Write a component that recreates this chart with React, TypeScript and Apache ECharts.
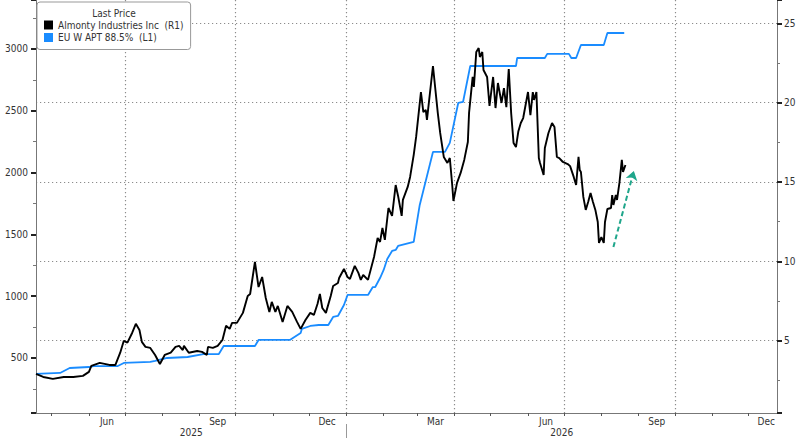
import React, { useEffect, useRef } from 'react';
import * as echarts from 'echarts';

const X_START = '2025-04-18';
const X_END = '2026-12-25';
const MONTH_NAMES = ['Jan', 'Feb', 'Mar', 'Apr', 'May', 'Jun', 'Jul', 'Aug', 'Sep', 'Oct', 'Nov', 'Dec'];
const LABEL_MONTHS = [2, 5, 8, 11];
const GRID_MONTHS = [0, 3, 6, 9];
const LEFT_RANGE = [55, 3396];
const RIGHT_RANGE = [0.44, 26.47];

const LEGEND_TITLE = 'Last Price';
const ALMONTY_NAME = 'Almonty Industries Inc  (R1)';
const APT_NAME = 'EU W APT 88.5%  (L1)';

// Almonty Industries share price (right axis)
const almonty: [string, number][] = [
  ['2025-04-18', 2.9], ['2025-04-24', 2.71], ['2025-05-02', 2.59], ['2025-05-11', 2.71],
  ['2025-05-19', 2.71], ['2025-05-27', 2.78], ['2025-06-01', 3.03], ['2025-06-03', 3.41],
  ['2025-06-10', 3.6], ['2025-06-18', 3.47], ['2025-06-23', 3.47], ['2025-06-27', 4.24],
  ['2025-06-30', 4.99], ['2025-07-03', 4.87], ['2025-07-07', 5.5], ['2025-07-10', 6.06],
  ['2025-07-13', 5.67], ['2025-07-15', 4.92], ['2025-07-18', 4.61], ['2025-07-22', 4.54],
  ['2025-07-26', 4.1], ['2025-07-30', 3.53], ['2025-08-03', 4.1], ['2025-08-08', 4.24],
  ['2025-08-12', 4.61], ['2025-08-15', 4.67], ['2025-08-18', 4.41], ['2025-08-19', 4.67],
  ['2025-08-23', 4.24], ['2025-08-30', 4.35], ['2025-09-03', 4.29], ['2025-09-07', 4.1],
  ['2025-09-08', 4.61], ['2025-09-12', 4.54], ['2025-09-16', 4.67], ['2025-09-20', 5.04],
  ['2025-09-23', 5.94], ['2025-09-26', 5.74], ['2025-09-28', 6.12], ['2025-10-02', 6.12],
  ['2025-10-07', 6.75], ['2025-10-11', 7.82], ['2025-10-13', 7.94], ['2025-10-17', 9.96],
  ['2025-10-20', 8.38], ['2025-10-23', 9.01], ['2025-10-26', 7.69], ['2025-10-29', 6.81],
  ['2025-10-31', 7.44], ['2025-11-03', 6.81], ['2025-11-05', 7.19], ['2025-11-09', 6.18],
  ['2025-11-13', 7.19], ['2025-11-17', 6.81], ['2025-11-21', 6.18], ['2025-11-24', 5.74],
  ['2025-11-28', 6.3], ['2025-12-02', 6.75], ['2025-12-05', 6.62], ['2025-12-08', 7.31],
  ['2025-12-10', 7.94], ['2025-12-12', 7.06], ['2025-12-15', 6.75], ['2025-12-19', 7.82],
  ['2025-12-21', 8.44], ['2025-12-25', 8.63], ['2025-12-26', 8.95], ['2025-12-30', 9.52],
  ['2026-01-02', 9.01], ['2026-01-04', 8.89], ['2026-01-08', 9.71], ['2026-01-11', 9.27],
  ['2026-01-13', 8.83], ['2026-01-15', 9.14], ['2026-01-19', 8.83], ['2026-01-24', 10.27],
  ['2026-01-27', 11.47], ['2026-01-29', 11.22], ['2026-01-31', 12.1], ['2026-02-02', 11.35],
  ['2026-02-05', 13.36], ['2026-02-08', 12.86], ['2026-02-11', 14.81], ['2026-02-13', 14.12],
  ['2026-02-16', 12.86], ['2026-02-17', 13.87], ['2026-02-21', 14.69], ['2026-02-23', 15.32],
  ['2026-02-26', 16.71], ['2026-02-28', 17.84], ['2026-03-04', 20.67], ['2026-03-06', 19.41],
  ['2026-03-08', 19.54], ['2026-03-09', 18.91], ['2026-03-14', 22.31], ['2026-03-18', 19.35],
  ['2026-03-20', 18.09], ['2026-03-23', 16.58], ['2026-03-26', 16.2], ['2026-03-28', 16.51],
  ['2026-03-30', 14.81], ['2026-03-31', 13.8], ['2026-04-03', 14.94], ['2026-04-06', 15.57],
  ['2026-04-09', 16.39], ['2026-04-12', 17.52], ['2026-04-13', 19.35], ['2026-04-16', 21.62],
  ['2026-04-17', 20.99], ['2026-04-19', 23.19], ['2026-04-21', 23.44], ['2026-04-22', 22.88],
  ['2026-04-24', 23.19], ['2026-04-25', 22.06], ['2026-04-28', 21.62], ['2026-04-30', 19.79],
  ['2026-05-03', 21.62], ['2026-05-05', 19.66], ['2026-05-07', 21.24], ['2026-05-10', 19.98],
  ['2026-05-12', 20.92], ['2026-05-14', 19.72], ['2026-05-16', 22.12], ['2026-05-18', 19.35],
  ['2026-05-20', 17.46], ['2026-05-22', 17.2], ['2026-05-24', 18.2], ['2026-05-26', 18.72],
  ['2026-05-28', 19.03], ['2026-06-01', 20.67], ['2026-06-03', 19.22], ['2026-06-05', 20.67],
  ['2026-06-06', 20.17], ['2026-06-08', 20.67], ['2026-06-10', 16.51], ['2026-06-11', 16.2],
  ['2026-06-14', 15.44], ['2026-06-15', 17.14], ['2026-06-18', 18.09], ['2026-06-21', 18.72],
  ['2026-06-23', 18.47], ['2026-06-25', 16.58], ['2026-06-27', 16.51], ['2026-06-30', 16.26],
  ['2026-07-04', 16.13], ['2026-07-06', 16.0], ['2026-07-09', 15.32], ['2026-07-11', 14.81],
  ['2026-07-13', 16.58], ['2026-07-14', 15.76], ['2026-07-15', 15.63], ['2026-07-17', 14.06],
  ['2026-07-19', 13.24], ['2026-07-21', 13.74], ['2026-07-23', 14.31], ['2026-07-25', 13.74],
  ['2026-07-27', 13.24], ['2026-07-29', 12.48], ['2026-07-30', 11.16], ['2026-08-01', 11.53],
  ['2026-08-03', 11.16], ['2026-08-04', 12.48], ['2026-08-06', 13.3], ['2026-08-09', 13.36],
  ['2026-08-10', 14.18], ['2026-08-11', 13.55], ['2026-08-13', 14.18], ['2026-08-14', 13.87],
  ['2026-08-16', 14.94], ['2026-08-18', 16.39], ['2026-08-19', 15.63], ['2026-08-21', 16.07],
];

// EU W APT 88.5% price (left axis)
const apt: [string, number][] = [
  ['2025-04-18', 371], ['2025-05-08', 379], ['2025-05-16', 419], ['2025-06-01', 427],
  ['2025-06-05', 435], ['2025-06-25', 435], ['2025-06-30', 460], ['2025-07-22', 468],
  ['2025-07-26', 476], ['2025-08-05', 500], ['2025-08-22', 508], ['2025-09-04', 532],
  ['2025-09-17', 532], ['2025-09-21', 597], ['2025-10-17', 597], ['2025-10-20', 646],
  ['2025-11-15', 646], ['2025-11-24', 702], ['2025-11-25', 735], ['2025-12-02', 759],
  ['2025-12-09', 767], ['2025-12-17', 767], ['2025-12-21', 832], ['2025-12-25', 840],
  ['2025-12-30', 929], ['2026-01-02', 1010], ['2026-01-19', 1010], ['2026-01-23', 1074],
  ['2026-01-25', 1074], ['2026-01-29', 1147], ['2026-02-01', 1212], ['2026-02-04', 1301],
  ['2026-02-08', 1366], ['2026-02-11', 1374], ['2026-02-13', 1406], ['2026-02-26', 1439],
  ['2026-02-28', 1560], ['2026-03-03', 1738], ['2026-03-14', 2167], ['2026-03-24', 2167],
  ['2026-03-28', 2240], ['2026-04-04', 2563], ['2026-04-08', 2571], ['2026-04-14', 2862],
  ['2026-05-22', 2862], ['2026-05-23', 2927], ['2026-06-15', 2927], ['2026-06-17', 2960],
  ['2026-07-05', 2960], ['2026-07-07', 2927], ['2026-07-11', 2927], ['2026-07-15', 3032],
  ['2026-08-03', 3032], ['2026-08-06', 3129], ['2026-08-20', 3129],
];

// Trend arrow annotation (right-axis values)
const arrowFrom: [string, number] = ['2026-08-11', 10.9];
const arrowTo: [string, number] = ['2026-08-28', 15.7];

const FONT = "'DejaVu Sans Condensed', 'Liberation Sans Narrow', 'DejaVu Sans', sans-serif";

function ts(s: string): number {
  const [y, m, d] = s.split('-').map(Number);
  return new Date(y, m - 1, d).getTime();
}
function fmt(dt: Date): string {
  const p = (n: number) => (n < 10 ? '0' + n : '' + n);
  return dt.getFullYear() + '-' + p(dt.getMonth() + 1) + '-' + p(dt.getDate());
}
function buildDays(): string[] {
  const out: string[] = [];
  const [y, m, d] = X_START.split('-').map(Number);
  const cur = new Date(y, m - 1, d);
  for (let i = 0; i < 2000; i++) {
    const s = fmt(cur);
    out.push(s);
    if (s === X_END) break;
    cur.setDate(cur.getDate() + 1);
  }
  return out;
}

export default function App() {
  const ref = useRef<HTMLDivElement>(null);
  useEffect(() => {
    const chart = echarts.init(ref.current!, null, { renderer: 'svg' });
    const days = buildDays();
    const years: Record<string, number[]> = {};
    days.forEach((d, i) => {
      const y = d.slice(0, 4);
      if (!years[y]) years[y] = [i, i];
      years[y][1] = i;
    });
    const yearMid = Object.keys(years).map((k) => Math.round((years[k][0] + years[k][1]) / 2));

    chart.setOption({
      animation: false,
      backgroundColor: '#fff',
      textStyle: { fontFamily: FONT },
      grid: { left: 36, right: 23, top: 0, bottom: 25 },
      title: {
        text: LEGEND_TITLE,
        left: 114,
        top: 8,
        textAlign: 'center',
        padding: 0,
        z: 10,
        textStyle: { fontSize: 10, fontWeight: 'normal', color: '#333', fontFamily: FONT },
      },
      legend: {
        data: [ALMONTY_NAME, APT_NAME],
        orient: 'vertical',
        left: 37,
        top: 2,
        padding: [17, 7, 6, 7],
        itemGap: 0.5,
        itemWidth: 9,
        itemHeight: 9,
        icon: 'rect',
        selectedMode: false,
        backgroundColor: '#fff',
        borderColor: '#999',
        borderWidth: 1,
        borderRadius: 3,
        textStyle: { fontSize: 10, color: '#333', lineHeight: 12, fontFamily: FONT },
      },
      xAxis: [
        {
          type: 'time',
          min: ts(X_START),
          max: ts(X_END),
          show: false,
        },
        {
          type: 'category',
          data: days,
          boundaryGap: false,
          position: 'bottom',
          axisLine: { show: true, lineStyle: { color: '#777', width: 1 } },
          axisTick: {
            show: true,
            interval: (_i: number, v: string) => v.endsWith('-01'),
            length: 3,
            lineStyle: { color: '#555' },
          },
          axisLabel: {
            interval: (_i: number, v: string) => {
              const p = v.split('-');
              return p[2] === '16' && LABEL_MONTHS.includes(Number(p[1]) - 1);
            },
            formatter: (v: string) => MONTH_NAMES[Number(v.split('-')[1]) - 1],
            fontSize: 10,
            color: '#333',
            margin: 3,
            fontFamily: FONT,
          },
          splitLine: {
            show: true,
            interval: (_i: number, v: string) => {
              const p = v.split('-');
              return p[2] === '01' && GRID_MONTHS.includes(Number(p[1]) - 1);
            },
            lineStyle: { color: '#8c8c8c', width: 1.2, type: [1.2, 2.8] },
          },
        },
        {
          type: 'category',
          data: days,
          boundaryGap: false,
          position: 'bottom',
          offset: 11,
          axisLine: { show: false },
          axisTick: {
            show: true,
            interval: (_i: number, v: string) => v.endsWith('-01-01'),
            length: 16,
            lineStyle: { color: '#999' },
          },
          axisLabel: {
            interval: (i: number) => yearMid.includes(i),
            formatter: (v: string) => v.slice(0, 4),
            fontSize: 10,
            color: '#333',
            margin: 3,
            fontFamily: FONT,
          },
          splitLine: { show: false },
        },
      ],
      yAxis: [
        {
          type: 'value',
          position: 'left',
          min: LEFT_RANGE[0],
          max: LEFT_RANGE[1],
          splitNumber: 5,
          axisLine: { show: true, lineStyle: { color: '#777', width: 1 } },
          axisTick: { show: true, length: 5, lineStyle: { color: '#222', width: 2 } },
          minorTick: { show: true, splitNumber: 2, length: 3, lineStyle: { color: '#777' } },
          axisLabel: {
            showMinLabel: false,
            showMaxLabel: false,
            formatter: (v: number) => String(v),
            fontSize: 10,
            color: '#333',
            margin: 8,
            fontFamily: FONT,
          },
          splitLine: { show: false },
        },
        {
          type: 'value',
          position: 'right',
          min: RIGHT_RANGE[0],
          max: RIGHT_RANGE[1],
          splitNumber: 5,
          axisLine: { show: true, lineStyle: { color: '#777', width: 1 } },
          axisTick: { show: true, length: 5, lineStyle: { color: '#222', width: 2 } },
          minorTick: { show: true, splitNumber: 2, length: 3, lineStyle: { color: '#777' } },
          axisLabel: {
            showMinLabel: false,
            showMaxLabel: false,
            formatter: (v: number) => String(v),
            fontSize: 10,
            color: '#333',
            margin: 7,
            fontFamily: FONT,
          },
          splitLine: {
            show: true,
            showMinLine: false,
            showMaxLine: false,
            lineStyle: { color: '#8c8c8c', width: 1.2, type: [1.2, 2.8] },
          },
        },
      ],
      series: [
        {
          name: APT_NAME,
          type: 'line',
          xAxisIndex: 0,
          yAxisIndex: 0,
          data: apt.map(([d, v]) => [ts(d), v]),
          showSymbol: false,
          symbol: 'none',
          lineStyle: { color: '#1a8cff', width: 1.8 },
          itemStyle: { color: '#1a8cff' },
          z: 2,
        },
        {
          name: ALMONTY_NAME,
          type: 'line',
          xAxisIndex: 0,
          yAxisIndex: 1,
          data: almonty.map(([d, v]) => [ts(d), v]),
          showSymbol: false,
          symbol: 'none',
          lineStyle: { color: '#000', width: 1.9 },
          itemStyle: { color: '#000' },
          z: 3,
          markLine: {
            silent: true,
            symbol: ['none', 'arrow'],
            symbolSize: 9,
            label: { show: false },
            emphasis: { disabled: true },
            lineStyle: { color: '#1fa68b', width: 2, type: [5, 3] },
            data: [
              [
                { coord: [ts(arrowFrom[0]), arrowFrom[1]] },
                { coord: [ts(arrowTo[0]), arrowTo[1]] },
              ],
            ],
          },
        },
      ],
    });
    return () => chart.dispose();
  }, []);
  return (
    <div
      ref={ref}
      style={{ position: 'fixed', left: 0, top: 0, width: 800, height: 438, background: '#fff' }}
    />
  );
}
